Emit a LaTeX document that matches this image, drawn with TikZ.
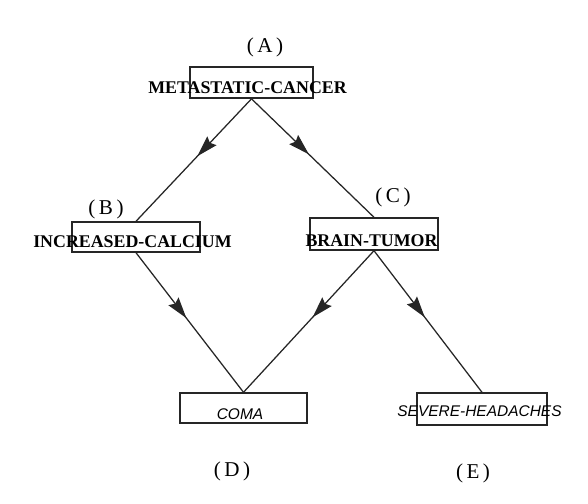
\documentclass[tikz,border=0pt]{standalone}
\usepackage{fontspec}
\setmainfont{Liberation Serif}
\setsansfont{Liberation Sans}
\usetikzlibrary{arrows.meta}
\usetikzlibrary{decorations.markings}

\tikzset{
  box/.style={draw=black!85, line width=1pt, inner sep=0pt},
  term/.style={inner sep=0pt, font=\fontsize{12.7}{14}\selectfont\bfseries},
  leaf/.style={inner sep=0pt, font=\fontsize{11}{13}\selectfont\sffamily\itshape},
  tag/.style={inner sep=0pt, font=\fontsize{15}{17}\selectfont},
  link/.style={draw=black!85, line width=0.9pt,
    postaction={decorate},
    decoration={markings, mark=at position 0.47 with {\arrow{Stealth[length=15pt, width=9pt, inset=2pt]}}}}
}

\begin{document}
\begin{tikzpicture}[x=0.025cm, y=-0.025cm]
\useasboundingbox (0,0) rectangle (588,504);

\node[box, minimum width=3.08cm, minimum height=0.78cm] (A) at (251.5,82.5) {};
\node[box, minimum width=3.2cm, minimum height=0.75cm] (B) at (136,237) {};
\node[box, minimum width=3.2cm, minimum height=0.8cm] (C) at (374,234) {};
\node[box, minimum width=3.18cm, minimum height=0.75cm] (D) at (243.5,408) {};
\node[box, minimum width=3.25cm, minimum height=0.8cm] (E) at (482,409) {};

\node[term] (Atext) at (247.5,88) {METASTATIC-CANCER};
\node[term] (Btext) at (132.5,241.5) {INCREASED-CALCIUM};
\node[term] (Ctext) at (371.5,241) {BRAIN-TUMOR};
\node[leaf] (Dtext) at (240,414) {COMA};
\node[leaf] (Etext) at (479.5,411.5) {SEVERE-HEADACHES};

\node[tag] (Atag) at (265,47) {(\,A\,)};
\node[tag] (Btag) at (106,209) {(\,B\,)};
\node[tag] (Ctag) at (393,197) {(\,C\,)};
\node[tag] (Dtag) at (232,471) {(\,D\,)};
\node[tag] (Etag) at (473,473) {(\,E\,)};

\draw[link] (A.south) -- (B.north);
\draw[link] (A.south) -- (C.north);
\draw[link] (B.south) -- (D.north);
\draw[link] (C.south) -- (D.north);
\draw[link] (C.south) -- (E.north);
\end{tikzpicture}
\end{document}
